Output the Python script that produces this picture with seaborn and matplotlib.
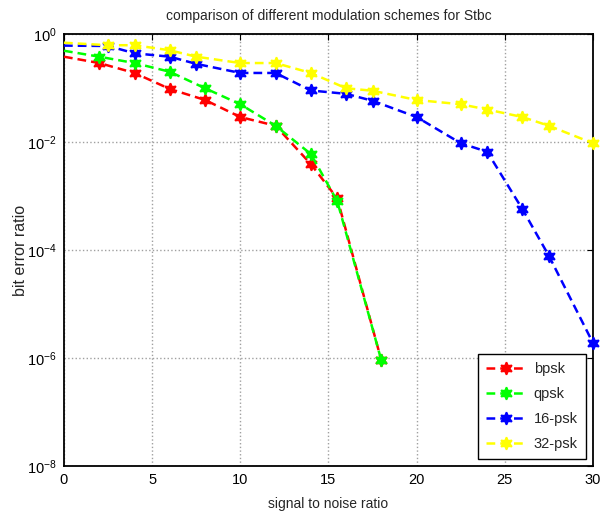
import numpy as np
import pandas as pd
import matplotlib
matplotlib.use("Agg")
import matplotlib.pyplot as plt
from matplotlib.ticker import FixedLocator, NullLocator, FuncFormatter
import seaborn as sns

# SNR grids (dB)
snr_low = [0, 2, 4, 6, 8, 10, 12, 14, 15.5, 18]
snr_high = [0, 2.5, 4, 6, 7.5, 10, 12, 14, 16, 17.5, 20, 22.5, 24, 26, 27.5, 30]

# bit error ratio per modulation scheme
ber_bpsk = [0.38, 0.29, 0.19, 0.096, 0.06, 0.029, 0.020, 0.0039, 0.0009, 0.9e-6]
ber_qpsk = [0.49, 0.38, 0.29, 0.20, 0.099, 0.050, 0.020, 0.006, 0.0008, 0.9e-6]
ber_16psk = [0.61, 0.60, 0.44, 0.38, 0.28, 0.19, 0.19, 0.09, 0.078, 0.058,
             0.029, 0.0095, 0.0066, 5.7e-4, 7.8e-5, 1.9e-6]
ber_32psk = [0.69, 0.62, 0.62, 0.50, 0.38, 0.29, 0.29, 0.19, 0.099, 0.089,
             0.060, 0.050, 0.040, 0.029, 0.020, 0.0095]

series_names = ["bpsk", "qpsk", "16-psk", "32-psk"]
series_colors = ["#ff0000", "#00ff00", "#0000ff", "#ffff00"]
series_x = [snr_low, snr_low, snr_high, snr_high]
series_y = [ber_bpsk, ber_qpsk, ber_16psk, ber_32psk]

title_text = "comparison of different modulation schemes for Stbc"
xlabel_text = "signal to noise ratio"
ylabel_text = "bit error ratio"
x_ticks = [0, 5, 10, 15, 20, 25, 30]
y_ticks = [1e0, 1e-2, 1e-4, 1e-6, 1e-8]

sns.set_style("white")
plt.rcParams["font.family"] = ["Liberation Sans", "DejaVu Sans"]
plt.rcParams["mathtext.fontset"] = "custom"
plt.rcParams["mathtext.rm"] = "Liberation Sans"
plt.rcParams["mathtext.it"] = "Liberation Sans:italic"
plt.rcParams["mathtext.default"] = "regular"
plt.rcParams["font.size"] = 10

fig = plt.figure(figsize=(6.11, 5.13), dpi=100)
ax = fig.add_axes([0.1047, 0.0916, 0.8658, 0.8421])

star6 = (6, 1, 0)
for name, color, xs, ys in zip(series_names, series_colors, series_x, series_y):
    df = pd.DataFrame({"snr": xs, "ber": ys})
    sns.lineplot(data=df, x="snr", y="ber", ax=ax, color=color, label=name,
                 linestyle=(0, (3.5, 2.0)), linewidth=1.8, marker=star6,
                 markersize=9, markeredgewidth=1.2, markeredgecolor=color,
                 markerfacecolor=color, markevery=slice(1, None),
                 estimator=None, sort=False, clip_on=False, zorder=3)

ax.set_yscale("log")
ax.set_xlim(0, 30)
ax.set_ylim(1e-8, 1e0)
ax.xaxis.set_major_locator(FixedLocator(x_ticks))
ax.yaxis.set_major_locator(FixedLocator(y_ticks))
ax.yaxis.set_major_formatter(
    FuncFormatter(lambda v, pos: "$10^{%s}$" % ("-" + str(int(round(-np.log10(v)))) if v < 1 else "0")))
ax.yaxis.set_minor_locator(NullLocator())
ax.xaxis.set_minor_locator(NullLocator())

ax.grid(True, color="#a0a0a0", linestyle=":", linewidth=1.0, zorder=0)
ax.tick_params(direction="in", length=4, width=0.8, top=True, right=True,
               labelsize=10.5, colors="black", pad=5)
for s in ax.spines.values():
    s.set_visible(True)
    s.set_color("black")
    s.set_linewidth(1.3)

ax.set_title(title_text, fontsize=10, pad=10)
ax.set_xlabel(xlabel_text, fontsize=10, labelpad=7)
ax.set_ylabel(ylabel_text, fontsize=11.5)
ax.yaxis.set_label_coords(-0.068, 0.5)

leg = ax.legend(loc="lower right", fontsize=10.5, frameon=True, fancybox=False,
                edgecolor="black", framealpha=1, borderaxespad=0.5,
                handlelength=2.8, labelspacing=0.75, borderpad=0.55,
                handletextpad=0.5)
leg.get_frame().set_linewidth(1.0)
leg.set_zorder(5)

fig.savefig("out.png", dpi=100, facecolor="white")
